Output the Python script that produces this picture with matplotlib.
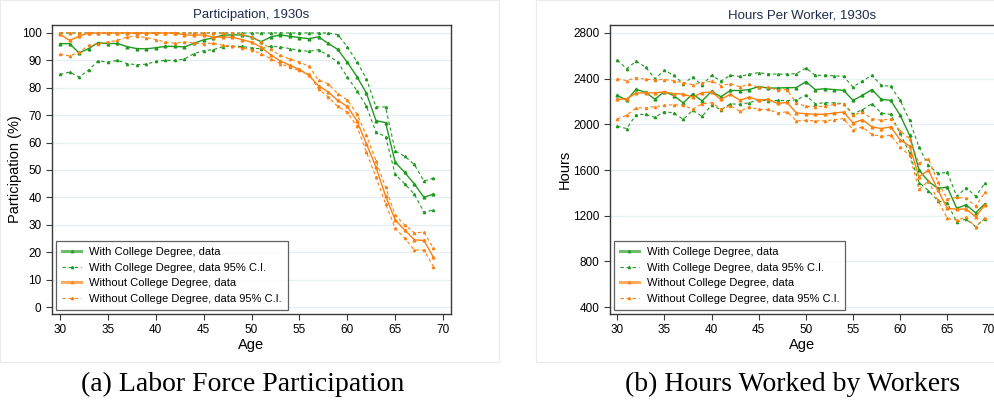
import matplotlib
matplotlib.use('Agg')
import matplotlib.pyplot as plt
from matplotlib.patches import Rectangle

plt.rcParams['font.family'] = ['Liberation Sans', 'DejaVu Sans']

# Data
ages = list(range(30, 70))

part_col = [96.1, 96.1, 92.7, 94.3, 96.5, 96.1, 96.2, 95.0, 94.3, 94.2,
            94.6, 95.1, 95.1, 94.9, 96.2, 97.5, 98.2, 99.2, 99.3, 99.3,
            98.5, 96.8, 98.5, 99.3, 98.8, 98.3, 97.9, 98.6, 96.2, 94.0,
            89.3, 84.1, 78.0, 68.0, 67.3, 52.8, 49.1, 44.9, 40.0, 41.2]
part_col_hi = [100.0, 100.0, 100.0, 100.0, 100.0, 100.0, 100.0, 100.0, 100.0, 100.0,
               100.0, 100.0, 100.0, 100.0, 100.0, 100.0, 100.0, 100.0, 100.0, 100.0,
               100.0, 100.0, 100.0, 100.0, 100.0, 100.0, 100.0, 100.0, 100.0, 99.4,
               95.0, 89.5, 83.3, 73.0, 73.0, 57.0, 55.0, 52.0, 46.0, 47.0]
part_col_lo = [84.9, 85.7, 83.9, 86.5, 89.9, 89.3, 90.0, 88.8, 88.4, 88.6,
               89.6, 90.0, 90.0, 90.5, 92.5, 93.5, 93.9, 95.0, 95.2, 95.1,
               94.5, 94.2, 95.2, 94.9, 94.3, 93.6, 93.3, 93.9, 91.8, 89.4,
               83.9, 79.0, 73.2, 63.8, 62.2, 48.5, 44.9, 41.2, 34.6, 35.4]

part_nocol = [99.5, 97.3, 98.8, 100.0, 100.0, 100.0, 100.0, 100.0, 100.0, 100.0,
              100.0, 100.0, 100.0, 99.3, 99.2, 99.3, 98.5, 98.5, 98.4, 97.6,
              96.6, 94.8, 92.0, 89.8, 88.2, 86.7, 84.5, 80.7, 78.5, 75.4,
              73.2, 68.0, 59.5, 51.0, 40.5, 31.8, 28.1, 24.5, 24.3, 18.1]
part_nocol_hi = [100.0, 100.0, 100.0, 100.0, 100.0, 100.0, 100.0, 100.0, 100.0, 100.0,
                 100.0, 100.0, 100.0, 100.0, 100.0, 100.0, 100.0, 100.0, 100.0, 99.5,
                 98.5, 96.8, 94.0, 91.8, 90.5, 89.4, 87.8, 82.7, 81.5, 77.8,
                 75.6, 70.5, 62.6, 53.4, 43.7, 33.6, 29.9, 27.1, 27.3, 21.4]
part_nocol_lo = [92.2, 91.6, 93.0, 95.5, 96.1, 96.7, 97.3, 98.5, 98.8, 98.3,
                 97.6, 96.7, 96.3, 96.7, 96.3, 96.1, 96.3, 95.5, 95.1, 94.5,
                 93.8, 92.4, 90.6, 88.8, 87.5, 86.3, 84.9, 79.6, 76.6, 73.2,
                 71.1, 65.9, 56.5, 47.3, 37.7, 28.7, 25.1, 20.8, 20.8, 14.7]

hrs_col = [2254, 2211, 2307, 2280, 2220, 2287, 2251, 2188, 2266, 2205,
           2289, 2242, 2297, 2296, 2305, 2330, 2318, 2318, 2321, 2322,
           2374, 2304, 2312, 2304, 2298, 2210, 2254, 2304, 2219, 2210,
           2080, 1905, 1600, 1500, 1440, 1450, 1265, 1295, 1225, 1305]
hrs_col_hi = [2561, 2488, 2552, 2502, 2400, 2473, 2429, 2356, 2415, 2342,
              2429, 2380, 2429, 2420, 2438, 2453, 2440, 2440, 2440, 2444,
              2493, 2429, 2430, 2425, 2420, 2327, 2380, 2429, 2342, 2333,
              2210, 2035, 1801, 1640, 1570, 1580, 1370, 1445, 1370, 1485]
hrs_col_lo = [1983, 1963, 2085, 2088, 2060, 2112, 2099, 2044, 2123, 2070,
              2168, 2127, 2180, 2175, 2190, 2213, 2205, 2210, 2207, 2215,
              2254, 2181, 2190, 2188, 2181, 2093, 2128, 2181, 2099, 2088,
              1920, 1750, 1490, 1420, 1330, 1310, 1145, 1170, 1105, 1175]

hrs_nocol = [2219, 2223, 2275, 2275, 2276, 2285, 2268, 2265, 2238, 2278,
             2282, 2219, 2263, 2211, 2238, 2212, 2219, 2183, 2192, 2100,
             2093, 2088, 2088, 2099, 2108, 2012, 2041, 1978, 1963, 1978,
             1865, 1810, 1540, 1600, 1425, 1264, 1256, 1258, 1190, 1295]
hrs_nocol_hi = [2400, 2382, 2409, 2394, 2392, 2392, 2380, 2364, 2348, 2364,
                2377, 2340, 2356, 2328, 2350, 2325, 2325, 2300, 2305, 2185,
                2158, 2155, 2158, 2175, 2181, 2079, 2108, 2050, 2035, 2050,
                1942, 1874, 1660, 1700, 1498, 1345, 1360, 1355, 1282, 1405]
hrs_nocol_lo = [2047, 2080, 2143, 2145, 2156, 2166, 2172, 2165, 2134, 2180,
                2190, 2134, 2163, 2114, 2153, 2130, 2130, 2100, 2110, 2030,
                2035, 2030, 2030, 2041, 2050, 1953, 1977, 1912, 1895, 1904,
                1801, 1728, 1430, 1505, 1337, 1177, 1162, 1185, 1101, 1182]

labels = ['With College Degree, data',
          'With College Degree, data 95% C.I.',
          'Without College Degree, data',
          'Without College Degree, data 95% C.I.']

green = '#1f9a1f'
orange = '#ff7f0e'
title_col = '#1e2b4d'

fig = plt.figure(figsize=(9.95, 4.08), dpi=100)

# faint frames around the two sub-images
fig.patches.append(Rectangle((0.0, 1 - 362/408), 499/995, 362/408, transform=fig.transFigure,
                             fill=False, edgecolor='#ececec', lw=0.8))
fig.patches.append(Rectangle((536/995, 1 - 362/408), 459/995, 362/408, transform=fig.transFigure,
                             fill=False, edgecolor='#ececec', lw=0.8))

ax1 = fig.add_axes([52/995, 1 - 314/408, 399/995, 289/408])
ax2 = fig.add_axes([610/995, 1 - 314/408, 385/995, 289/408])


def draw(ax, m1, h1, l1, m2, h2, l2):
    ax.plot(ages, m1, color=green, lw=1.0, marker='^', ms=2.0, label=labels[0])
    ax.plot(ages, h1, color=green, lw=0.8, ls=(0, (3, 2.5)), marker='^', ms=1.6, label=labels[1])
    ax.plot(ages, l1, color=green, lw=0.8, ls=(0, (3, 2.5)), marker='^', ms=1.6)
    ax.plot(ages, m2, color=orange, lw=1.0, marker='^', ms=2.0, label=labels[2])
    ax.plot(ages, h2, color=orange, lw=0.8, ls=(0, (3, 2.5)), marker='^', ms=1.6, label=labels[3])
    ax.plot(ages, l2, color=orange, lw=0.8, ls=(0, (3, 2.5)), marker='^', ms=1.6)
    ax.grid(axis='y', color='#e6eff1', lw=0.9)
    ax.set_axisbelow(True)
    for s in ax.spines.values():
        s.set_color('#3a3a3a')
        s.set_linewidth(1.0)
    ax.tick_params(labelsize=8.5, length=4, width=0.8, color='#3a3a3a')
    ax.set_xticks([30, 35, 40, 45, 50, 55, 60, 65, 70])
    ax.set_xlabel('Age', fontsize=10.5, labelpad=1)
    leg = ax.legend(loc='lower left', bbox_to_anchor=(0.01, 0.014), borderaxespad=0,
                    fontsize=8, frameon=True, fancybox=False, handlelength=1.7,
                    handletextpad=0.7, labelspacing=0.5, borderpad=0.55)
    leg.get_frame().set_edgecolor('#3a3a3a')
    leg.get_frame().set_linewidth(0.9)
    for h in leg.get_lines()[::2]:
        h.set_linewidth(2.2)
        h.set_alpha(0.65)


draw(ax1, part_col, part_col_hi, part_col_lo, part_nocol, part_nocol_hi, part_nocol_lo)
ax1.set_xlim(29.17, 70.83)
ax1.set_ylim(-2.55, 102.9)
ax1.set_yticks(range(0, 101, 10))
ax1.set_ylabel('Participation (%)', fontsize=10.5, labelpad=0)
ax1.set_title('Participation, 1930s', fontsize=9.5, color=title_col, pad=5)

draw(ax2, hrs_col, hrs_col_hi, hrs_col_lo, hrs_nocol, hrs_nocol_hi, hrs_nocol_lo)
ax2.set_xlim(29.23, 70.06)
ax2.set_ylim(339, 2870)
ax2.set_yticks([400, 800, 1200, 1600, 2000, 2400, 2800])
ax2.set_ylabel('Hours', fontsize=10.5, labelpad=1)
ax2.set_title('Hours Per Worker, 1930s', fontsize=9.5, color=title_col, pad=5)
# the last tick sits on the figure edge; right-align it so it stays visible
ax2.get_xticklabels()[-1].set_horizontalalignment('right')

fig.text(243/995, 1 - 384/408, '(a) Labor Force Participation', ha='center', va='center',
         fontsize=20, family='Liberation Serif')
fig.text(793/995, 1 - 384/408, '(b) Hours Worked by Workers', ha='center', va='center',
         fontsize=20, family='Liberation Serif')

fig.savefig('out.png', dpi=100)
